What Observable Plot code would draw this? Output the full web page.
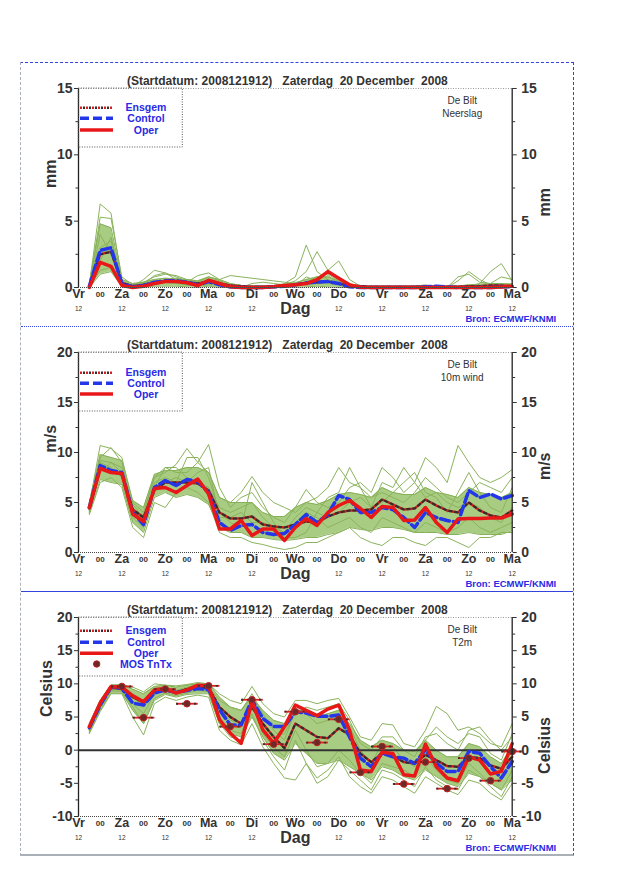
<!DOCTYPE html>
<html>
<head>
<meta charset="utf-8">
<script src="https://cdn.jsdelivr.net/npm/d3@7"></script>
<script src="https://cdn.jsdelivr.net/npm/@observablehq/plot@0.6"></script>
<style>
  body { margin: 0; background: #fff; }
  #page { position: relative; width: 640px; height: 880px; background: #fff; overflow: hidden; }
  .panel { position: absolute; left: 20px; width: 553px; }
</style>
</head>
<body>
<div id="page">
  <div style="position:absolute;left:20px;top:62px;width:552px;height:791px;border-top:1px dashed #3344dd;border-right:1px dashed #3344dd;border-left:1px dashed #aab0b8;border-bottom:2px solid #aab0b8"></div>
  <div style="position:absolute;left:21px;top:326px;width:552px;border-top:1px dotted #3344dd"></div>
  <div style="position:absolute;left:21px;top:591px;width:552px;border-top:1px solid #3344dd"></div>
  <div id="p1" class="panel" style="top:62px"></div>
  <div id="p2" class="panel" style="top:326px"></div>
  <div id="p3" class="panel" style="top:591px"></div>
</div>
<script>
// ---------- time axis ----------
const hours = [6,12,18,24,30,36,42,48,54,60,66,72,78,84,90,96,102,108,114,120,
               126,132,138,144,150,156,162,168,174,180,186,192,198,204,210,216,222,228,234,240];
const dayHours = [0,24,48,72,96,120,144,168,192,216,240];
const dayNames = ["Vr","Za","Zo","Ma","Di","Wo","Do","Vr","Za","Zo","Ma"];
const midHours = [12,36,60,84,108,132,156,180,204,228];
const noonHours = [0,24,48,72,96,144,168,192,216,240];

const titleText = "(Startdatum: 2008121912)\u00a0\u00a0\u00a0Zaterdag\u00a0 20 December\u00a0 2008";
const sourceText = "Bron: ECMWF/KNMI";

// ---------- Neerslag (mm) ----------
const precipOper    = [0,1.9,1.6,0.15, 0,0.1,0.3,0.45, 0.45,0.35,0.15,0.55, 0.3,0.05,0,0, 0,0.05,0.15,0.2, 0.3,0.6,1.2,0.7, 0.2,0.02,0,0, 0,0,0,0, 0,0,0,0, 0,0,0.03,0.1];
const precipControl = [0.1,2.8,3.0,0.3, 0.05,0.15,0.4,0.5, 0.5,0.4,0.2,0.45, 0.2,0.05,0,0, 0,0.05,0.1,0.2, 0.35,0.4,0.45,0.3, 0.05,0,0,0, 0,0,0,0.05, 0.1,0.05,0,0, 0,0,0.05,0.05];
const precipEnsgem  = [0.15,2.5,2.7,0.35, 0.1,0.2,0.35,0.45, 0.45,0.4,0.3,0.45, 0.3,0.15,0.1,0.05, 0.05,0.1,0.15,0.2, 0.35,0.4,0.45,0.3, 0.15,0.1,0.05,0.05, 0.05,0.05,0.05,0.05, 0.05,0.05,0.05,0.1, 0.1,0.15,0.15,0.1];
const precipLo      = [0,1.0,1.2,0.05, 0,0,0.1,0.1, 0.1,0.05,0,0.1, 0,0,0,0, 0,0,0,0, 0.05,0.1,0.05,0, 0,0,0,0, 0,0,0,0, 0,0,0,0, 0,0,0,0];
const precipHi      = [0.3,4.8,4.5,0.6, 0.3,0.4,0.6,0.7, 0.65,0.6,0.5,0.8, 0.6,0.3,0.15,0.1, 0.1,0.15,0.25,0.35, 0.6,0.8,0.8,0.5, 0.25,0.1,0.1,0.1, 0.1,0.1,0.1,0.15, 0.15,0.1,0.1,0.2, 0.25,0.3,0.3,0.25];
const precipMembers = [
  [0.2,6.3,5.6,0.5, 0.1,0.6,1.3,1.1, 0.8,0.5,0.3,0.6, 0.4,0.2,0.1,0, 0,0,0.1,0.2, 0.4,0.5,0.3,0.2, 0.1,0,0,0, 0,0,0,0, 0,0,0,0, 0,0,0,0],
  [0.1,5.3,5.2,0.8, 0.2,0.3,0.9,1.1, 0.6,0.4,0.9,1.1, 0.6,0.9,0.8,0.7, 0.6,0.5,0.4,0.3, 0.2,0.3,0.4,0.3, 0.2,0.1,0,0, 0,0,0,0, 0,0,0,0, 0,0,0.1,0.3],
  [0,3.0,3.5,0.3, 0,0.2,0.4,0.5, 0.4,0.2,0.1,0.3, 0.2,0.1,0,0, 0,0.1,0.3,0.8, 3.2,1.2,0.6,0.3, 0.1,0,0,0, 0,0,0,0, 0,0,0.5,1.2, 0.6,0.2,0.1,0.1],
  [0,4.0,2.5,0.2, 0,0.4,0.8,1.0, 0.9,0.6,0.4,0.8, 0.5,0.2,0,0, 0,0.1,0.2,0.5, 1.2,2.7,1.3,2.0, 0.6,0.1,0,0, 0,0,0,0, 0,0,0,0, 0,0,0,0],
  [0.1,2.0,3.8,0.4, 0.1,0.1,0.3,0.6, 0.7,0.5,0.2,0.5, 0.3,0.1,0,0, 0,0,0.1,0.2, 0.4,0.8,1.0,0.5, 0.3,0.1,0,0, 0,0,0.1,0.2, 0,0,0,0.1, 0.3,1.2,1.8,0.5],
  [0,1.3,1.5,0.1, 0,0.3,0.5,0.4, 0.3,0.2,0.1,0.2, 0.2,0.1,0,0.3, 0.4,0.3,0.2,0.1, 0.8,0.5,0.9,0.3, 0,0,0,0, 0,0,0,0, 0,0,0.8,1.0, 0.4,0.3,0.8,0.6]
];

// ---------- 10m wind (m/s) ----------
const windOper    = [4.5,8.4,8.0,7.9, 3.85,3.1,6.4,6.5, 6.0,6.7,7.35,5.85, 2.35,2.35,3.2,1.7, 2.35,2.35,1.2,2.5, 3.4,2.7,4.0,4.7, 5.2,4.4,3.5,4.6, 4.5,3.2,3.25,4.5, 3.0,2.0,3.35,3.4, 3.4,3.45,3.45,3.85];
const windControl = [4.5,8.7,8.2,8.0, 4.0,2.8,6.5,7.2, 6.7,7.3,7.1,6.0, 3.0,2.2,2.7,2.8, 2.0,1.8,1.9,2.8, 3.8,3.0,3.8,5.7, 5.3,4.0,4.0,4.5, 4.3,3.5,2.5,4.0, 3.5,3.2,3.0,6.2, 5.5,5.85,5.35,5.7];
const windEnsgem  = [4.4,8.4,8.1,7.8, 4.3,3.5,6.3,7.0, 7.0,7.0,6.9,6.2, 4.0,3.4,3.4,3.6, 2.8,2.6,2.5,2.8, 3.1,3.0,3.6,4.0, 4.2,4.2,4.3,5.3, 4.8,4.3,4.4,5.3, 4.7,4.2,4.0,5.0, 4.2,3.7,3.5,4.2];
const windLo      = [3.9,7.3,7.0,6.8, 3.0,2.0,5.5,6.0, 5.5,5.8,5.5,4.8, 2.5,2.0,2.0,1.5, 1.5,1.3,1.2,1.3, 1.5,1.5,1.8,2.0, 2.5,2.3,2.2,2.5, 2.5,2.3,2.0,2.0, 2.0,1.8,1.8,2.0, 1.8,1.8,1.8,2.2];
const windHi      = [5.0,9.8,9.5,9.2, 5.2,4.5,7.8,8.2, 8.2,8.5,8.5,8.0, 5.5,5.0,5.0,5.0, 4.0,3.6,3.6,4.5, 5.0,4.8,5.2,5.8, 6.0,5.8,5.5,6.5, 6.0,5.8,5.8,6.5, 6.0,5.8,5.5,6.5, 6.0,5.8,5.5,6.0];
const windMembers = [
  [4.8,10.7,10.4,9.5, 5.0,4.0,7.5,8.0, 8.8,10.4,9.0,8.0, 5.5,5.0,6.0,7.6, 6.0,5.0,4.5,4.0, 5.0,5.5,6.5,8.5, 7.0,6.5,5.5,6.0, 5.5,5.0,6.0,7.5, 6.5,5.5,5.0,6.0, 7.0,6.5,6.0,7.5],
  [4.2,9.5,10.5,9.0, 4.5,3.0,6.5,8.5, 8.0,8.0,9.0,10.8, 6.5,4.5,5.5,6.0, 4.5,3.5,3.0,4.5, 6.3,5.0,4.5,5.0, 6.5,7.0,6.0,8.5, 7.5,6.0,7.0,9.5, 8.5,7.0,10.7,9.0, 7.5,7.0,7.5,8.3],
  [3.8,7.0,7.5,6.5, 2.5,1.5,5.0,4.5, 6.0,6.5,6.0,5.0, 2.0,1.5,1.5,1.0, 0.8,0.5,0.3,0.5, 1.0,1.0,1.5,2.0, 2.5,1.5,1.0,0.7, 1.5,1.5,1.0,0.7, 1.5,1.5,1.0,0.5, 1.5,1.5,2.0,2.0],
  [4.0,8.0,9.0,8.5, 3.5,2.5,7.0,7.5, 7.0,9.5,9.5,7.5, 4.0,3.0,2.5,7.0, 5.0,3.0,1.5,1.5, 2.0,4.0,5.5,6.0, 8.5,6.5,4.5,5.0, 6.0,7.0,8.0,6.0, 5.5,4.0,6.0,8.0, 6.0,4.5,4.0,6.5],
  [4.3,9.0,8.5,7.5, 4.8,3.5,6.0,7.0, 7.5,7.0,8.0,8.5, 3.5,3.5,4.0,3.0, 3.0,2.5,2.0,3.0, 4.0,3.5,2.5,3.0, 3.5,2.5,2.0,3.5, 3.0,2.5,2.0,3.0, 2.5,2.0,2.5,3.5, 2.5,2.0,2.5,3.0],
  [4.1,9.2,9.0,8.0, 4.0,3.8,7.5,8.5, 8.5,7.5,7.0,6.5, 4.5,4.0,4.5,5.0, 3.5,2.5,2.0,3.5, 4.5,4.0,3.5,4.0, 5.0,5.5,4.5,7.0, 6.5,8.5,7.0,5.5, 6.0,5.0,4.5,5.0, 4.5,3.5,3.0,4.5]
];

// ---------- T2m (Celsius) ----------
const tempOper    = [3.55,7.1,9.6,9.5, 8.2,7.3,9.1,9.3, 8.6,9.1,9.8,9.7, 4.6,2.55,1.05,7.3, 3.05,1.05,3.55,6.8, 6.0,5.2,6.2,6.8, 3.0,-3.0,-3.2,-0.3, -0.5,-3.7,-3.9,0.9, -2.5,-4.2,-4.6,-1.0, -1.5,-3.6,-3.2,1.0];
const tempControl = [3.4,6.8,9.5,9.3, 7.1,6.8,8.6,9.1, 8.7,9.0,9.3,9.1, 6.1,3.8,3.8,7.6, 4.8,3.55,3.55,5.8, 5.6,5.1,5.1,5.3, 2.0,-1.2,-2.5,-0.45, -1.0,-1.2,-2.0,0.05, -2.0,-3.2,-3.2,-0.2, -0.45,-2.5,-4.2,-1.7];
const tempEnsgem  = [3.3,6.9,9.4,9.3, 8.0,7.2,8.8,9.0, 8.7,9.2,9.4,9.4, 6.5,5.0,4.0,6.5, 4.0,2.0,0.3,4.0, 3.0,2.0,1.8,3.3, 2.3,-0.5,-1.8,-0.5, -0.9,-1.8,-2.0,-0.7, -1.5,-2.4,-2.5,-1.0, -1.2,-2.3,-2.8,-1.0];
const tempLo      = [2.6,6.0,8.6,8.6, 6.0,4.0,7.5,8.4, 8.0,8.4,8.5,8.5, 4.0,2.5,2.0,5.0, 2.0,-0.5,-1.5,1.0, -0.5,-2.0,-2.0,-1.5, -2.5,-3.5,-4.5,-2.5, -3.0,-4.0,-4.5,-3.0, -4.0,-5.0,-5.5,-3.5, -4.0,-5.0,-6.0,-4.5];
const tempHi      = [4.0,7.5,9.8,9.8, 9.2,8.5,9.6,9.8, 9.5,9.8,10.0,10.0, 8.0,6.5,6.0,8.0, 6.0,4.5,4.0,6.0, 6.0,5.0,5.5,6.0, 4.0,1.5,0.5,1.5, 1.0,0.0,-0.2,1.5, 0.0,-1.0,-1.0,1.0, 0.5,-1.0,-2.0,0.5];
const tempMembers = [
  [3.8,7.5,9.8,9.9, 9.5,8.8,10.0,9.8, 9.7,9.9,10.2,10.0, 8.5,7.5,7.0,9.6, 7.0,5.5,5.0,7.5, 7.5,7.0,7.5,7.8, 5.0,2.0,1.5,4.0, 3.8,1.0,0.5,3.0, 6.6,5.5,3.0,3.5, 2.5,1.0,0.5,4.0],
  [2.5,5.8,8.5,8.5, 5.0,2.3,7.0,8.0, 7.5,8.0,8.3,8.0, 3.0,1.5,0.8,4.0, 0.5,-2.0,-4.2,-4.5, -2.0,-4.2,-3.0,-1.0, -4.0,-5.5,-6.5,-4.0, -4.5,-5.5,-6.5,-4.0, -5.0,-6.0,-6.7,-4.5, -5.0,-6.5,-7.5,-5.0],
  [3.0,6.5,9.2,9.0, 7.0,5.5,8.5,9.0, 8.5,9.0,9.5,9.5, 7.5,6.5,6.0,8.5, 5.5,3.0,1.5,6.0, 5.5,4.0,4.5,5.5, 3.5,0.0,-2.0,1.0, 0.5,-1.5,-2.5,1.5, 3.5,2.0,1.0,2.5, 2.0,-0.5,-1.5,2.5],
  [3.2,7.0,9.0,9.2, 8.5,7.5,9.3,9.5, 9.0,9.5,9.8,9.6, 5.0,3.0,2.5,7.0, 2.5,0.5,-1.0,3.0, 0.0,-2.5,-2.0,0.0, -1.5,-3.5,-5.0,-2.0, -2.5,-3.0,-4.0,-1.0, -3.0,-4.5,-5.0,-2.0, -3.5,-5.0,-6.0,-3.0],
  [3.5,7.2,9.5,9.5, 8.0,6.5,9.0,9.2, 8.8,9.3,9.6,9.5, 6.0,4.5,4.0,7.5, 4.0,2.0,2.5,5.5, 6.5,6.0,6.5,7.0, 4.5,1.0,0.0,2.0, 2.0,0.0,-1.0,2.0, 2.5,1.0,0.0,3.0, 3.5,1.5,0.0,2.0],
  [2.8,6.2,8.8,8.8, 6.5,4.0,7.8,8.6, 8.2,8.6,9.0,8.8, 4.0,2.0,1.5,5.5, 1.5,-1.0,-3.0,1.5, -2.0,-5.0,-4.0,-1.5, -3.0,-4.5,-6.0,-3.0, -3.5,-4.5,-5.5,-2.5, -4.5,-5.5,-6.0,-3.0, -4.0,-5.5,-7.0,-4.0]
];
const mosHours  = [24,36,48,60,72,84,96,108,120,132,144,156,168,180,192,204,216,228,240];
const mosValues = [9.6,4.9,9.2,7.0,9.7,3.55,7.6,0.9,5.8,1.15,4.65,-3.35,0.55,-5.1,-1.8,-5.8,-1.2,-4.6,-0.2];

// ---------- drawing ----------
const FONT = "'Liberation Sans', Arial, Helvetica, sans-serif";
const TXT = "#333";
const BLUE = "#2a2ae6";
const ENS_RED = "#d42020", ENS_DARK = "#3a2a2a";

function makePanel(cfg) {
  const rows = hours.map((h, i) => ({h, oper: cfg.oper[i], control: cfg.control[i], ensgem: cfg.ensgem[i], lo: cfg.lo[i], hi: cfg.hi[i]}));
  const memberRows = cfg.members.flatMap((m, k) => m.map((v, i) => ({h: hours[i], v, k})));
  const dayRows = dayHours.map((h, i) => ({h, label: dayNames[i]}));
  const [y0, y1] = cfg.yDomain;
  const marks = [
    Plot.areaY(rows, {x: "h", y1: "lo", y2: "hi", fill: "#a0c676", fillOpacity: 0.9}),
    Plot.line(rows, {x: "h", y: "lo", stroke: "#86b058", strokeWidth: 1}),
    Plot.line(rows, {x: "h", y: "hi", stroke: "#86b058", strokeWidth: 1}),
    Plot.line(memberRows, {x: "h", y: "v", z: "k", stroke: "#8ab35c", strokeWidth: 1})
  ];
  if (cfg.zero) marks.push(Plot.ruleY([0], {stroke: "#333", strokeWidth: 2}));
  marks.push(
    Plot.line(rows, {x: "h", y: "ensgem", stroke: ENS_RED, strokeWidth: 2.5, strokeDasharray: "2,4"}),
    Plot.line(rows, {x: "h", y: "ensgem", stroke: ENS_DARK, strokeWidth: 2.5, strokeDasharray: "2,4", strokeDashoffset: 3}),
    Plot.line(rows, {x: "h", y: "control", stroke: "#2436ea", strokeWidth: 3.5, strokeDasharray: "9,4"}),
    Plot.line(rows, {x: "h", y: "oper", stroke: "#e81818", strokeWidth: 3.5})
  );
  if (cfg.mos) {
    const mosRows = mosHours.map((h, i) => ({h, v: mosValues[i]}));
    marks.push(
      Plot.link(mosRows, {x1: d => d.h - 6, x2: d => d.h + 6, y1: "v", y2: "v", stroke: "#e02020", strokeWidth: 1.8}),
      Plot.link(mosRows, {x1: d => d.h - 6, x2: d => d.h + 6, y1: "v", y2: "v", stroke: "#333", strokeWidth: 1.8, strokeDasharray: "2,4"}),
      Plot.dot(mosRows, {x: "h", y: "v", r: 3.3, fill: "#6a2a2a", stroke: "#c02020", strokeWidth: 1})
    );
  }
  marks.push(
    // frame
    Plot.ruleY([y1], {stroke: "#999", strokeDasharray: "1,1.5"}),
    Plot.ruleY([y0], {stroke: "#444", strokeDasharray: "1,1"}),
    Plot.ruleX([0], {stroke: "#222", strokeWidth: 1.3}),
    Plot.ruleX([240], {stroke: "#222", strokeWidth: 1.3}),
    // y axes
    Plot.axisY({anchor: "left", ticks: cfg.yTicks, tickSize: 4, tickPadding: 2, fontSize: 14, fontWeight: "bold", color: TXT, tickFormat: d => String(d)}),
    Plot.axisY({anchor: "left", ticks: cfg.yMinor, tickSize: 2.5, color: TXT, tickFormat: () => ""}),
    Plot.axisY({anchor: "right", ticks: cfg.yTicks, tickSize: 4, tickPadding: 5, fontSize: 14, fontWeight: "bold", color: TXT, tickFormat: d => String(d)}),
    Plot.axisY({anchor: "right", ticks: cfg.yMinor, tickSize: 2.5, color: TXT, tickFormat: () => ""}),
    Plot.text([cfg.yLabel], {frameAnchor: "left", dx: cfg.yLabelDx, rotate: -90, fontSize: 16, fontWeight: "bold", fill: TXT}),
    Plot.text([cfg.yLabel], {frameAnchor: "right", dx: 33, rotate: -90, fontSize: 16, fontWeight: "bold", fill: TXT}),
    // x labels
    Plot.text(dayRows, {x: "h", text: "label", frameAnchor: "bottom", dy: 10.5, fontSize: 12.5, fontWeight: "bold", fill: TXT}),
    Plot.text(midHours, {x: d => d, text: () => "00", frameAnchor: "bottom", dy: 9, fontSize: 8, fontWeight: "bold", fill: TXT}),
    Plot.text(noonHours, {x: d => d, text: () => "12", frameAnchor: "bottom", dy: 23.5, fontSize: 6.5, fill: TXT}),
    Plot.text(["Dag"], {frameAnchor: "bottom", dy: 26.5, fontSize: 16, fontWeight: "bold", fill: TXT}),
    Plot.text([sourceText], {frameAnchor: "bottom-right", dx: 44, dy: 34.5, textAnchor: "end", fontSize: 9.5, fontWeight: "bold", fill: BLUE}),
    // titles
    Plot.text([titleText], {frameAnchor: "top", dx: -8, dy: -12, fontSize: 12, fontWeight: "bold", fill: TXT}),
    Plot.text([cfg.subtitle], {frameAnchor: "top-right", dx: -50, dy: 6, fontSize: 10, fill: TXT, textAnchor: "middle", lineHeight: 1.3})
  );
  const svg = Plot.plot({
    width: 553, height: cfg.height,
    marginLeft: 58, marginRight: 61.3, marginTop: 26, marginBottom: 39,
    x: {domain: [0, 240], axis: null},
    y: {domain: cfg.yDomain, axis: null},
    style: {fontFamily: FONT, background: "transparent", overflow: "visible"},
    marks
  });
  // legend box (decoration, pixel layout)
  const g = d3.select(svg).append("g").attr("font-family", FONT);
  g.append("rect").attr("x", 58.3).attr("y", 26).attr("width", 104).attr("height", 59)
    .attr("fill", "none").attr("stroke", "#555").attr("stroke-dasharray", "1,1.5");
  const ys = cfg.legendY;
  const seg = (y, attrs) => { const l = g.append("line").attr("x1", 60).attr("x2", 93).attr("y1", y).attr("y2", y); for (const k in attrs) l.attr(k, attrs[k]); };
  seg(ys[0], {stroke: ENS_RED, "stroke-width": 2.5, "stroke-dasharray": "2,4"});
  seg(ys[0], {stroke: ENS_DARK, "stroke-width": 2.5, "stroke-dasharray": "2,4", "stroke-dashoffset": 3});
  seg(ys[1], {stroke: "#2436ea", "stroke-width": 3.5, "stroke-dasharray": "9,4"});
  seg(ys[2], {stroke: "#e81818", "stroke-width": 3.5});
  const names = ["Ensgem", "Control", "Oper"];
  if (cfg.mos) {
    names.push("MOS TnTx");
    g.append("circle").attr("cx", 76.7).attr("cy", ys[3]).attr("r", 3.2).attr("fill", "#6a2a2a").attr("stroke", "#c02020");
  }
  names.forEach((n, i) => g.append("text").attr("x", 126).attr("y", ys[i]).attr("dy", "0.35em")
    .attr("text-anchor", "middle").attr("font-size", 10.5).attr("font-weight", "bold").attr("fill", BLUE).text(n));
  return svg;
}

document.getElementById("p1").append(makePanel({
  height: 264, yDomain: [0, 15], yTicks: [0, 5, 10, 15], yMinor: [2.5, 7.5, 12.5], yLabel: "mm", yLabelDx: -28,
  oper: precipOper, control: precipControl, ensgem: precipEnsgem, lo: precipLo, hi: precipHi, members: precipMembers,
  subtitle: "De Bilt\nNeerslag", legendY: [45.7, 56.3, 68]
}));
document.getElementById("p2").append(makePanel({
  height: 265, yDomain: [0, 20], yTicks: [0, 5, 10, 15, 20], yMinor: [2.5, 7.5, 12.5, 17.5], yLabel: "m/s", yLabelDx: -28,
  oper: windOper, control: windControl, ensgem: windEnsgem, lo: windLo, hi: windHi, members: windMembers,
  subtitle: "De Bilt\n10m wind", legendY: [46.7, 57.3, 68]
}));
document.getElementById("p3").append(makePanel({
  height: 264, yDomain: [-10, 20], yTicks: [-10, -5, 0, 5, 10, 15, 20], yMinor: [-7.5, -2.5, 2.5, 7.5, 12.5, 17.5], yLabel: "Celsius", yLabelDx: -32,
  oper: tempOper, control: tempControl, ensgem: tempEnsgem, lo: tempLo, hi: tempHi, members: tempMembers,
  subtitle: "De Bilt\nT2m", legendY: [39.7, 51.3, 62.3, 73], zero: true, mos: true
}));
</script>
</body>
</html>
